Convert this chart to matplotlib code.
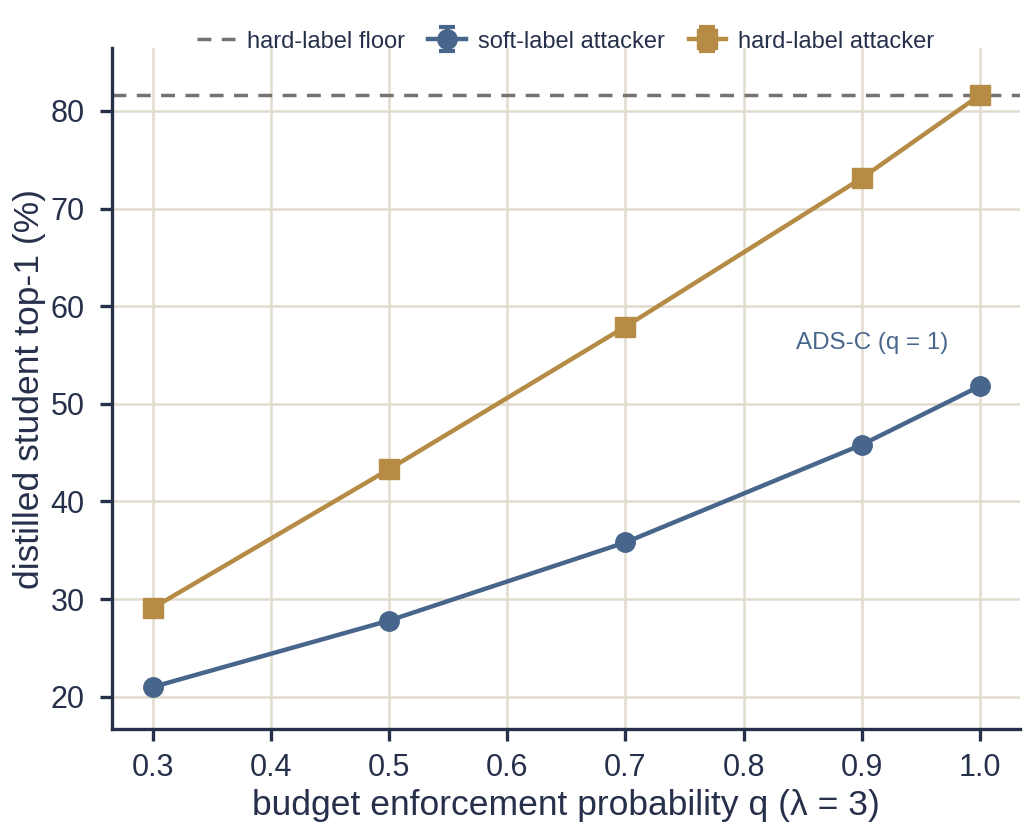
import matplotlib
matplotlib.use("Agg")
import matplotlib.pyplot as plt

q = [0.3, 0.5, 0.7, 0.9, 1.0]
soft = [21.0, 27.8, 35.8, 45.8, 51.8]
hard = [29.1, 43.3, 57.9, 73.1, 81.6]
soft_err = [0.3, 0.3, 0.3, 0.3, 0.3]
hard_err = [0.3, 0.3, 0.3, 0.3, 0.3]
floor = 81.6
xticks = [0.3, 0.4, 0.5, 0.6, 0.7, 0.8, 0.9, 1.0]
yticks = [20, 30, 40, 50, 60, 70, 80]

navy = "#26304a"
c_soft = "#48658c"
c_hard = "#b58b45"
c_grid = "#e2dccf"

plt.rcParams['font.family'] = ['Liberation Sans', 'DejaVu Sans']
fig = plt.figure(figsize=(10.24, 8.34), dpi=100)
ax = fig.add_axes([0.109, 0.126, 0.887, 0.816])

ax.axhline(floor, color="#777270", ls=(0, (4, 3)), lw=2.5, label="hard-label floor", zorder=2)
ax.errorbar(q, soft, yerr=soft_err, color=c_soft, marker="o", ms=14, lw=3.2, capsize=6,
            capthick=3, elinewidth=3, label="soft-label attacker", zorder=3)
ax.errorbar(q, hard, yerr=hard_err, color=c_hard, marker="s", ms=14, lw=3.2, capsize=6,
            capthick=3, elinewidth=3, label="hard-label attacker", zorder=3)

ax.annotate("ADS-C (q = 1)", xy=(1.0, soft[-1]), xytext=(0.909, 56.2), color=c_soft,
            fontsize=17.4, ha="center", va="center")

ax.set_xlim(0.265, 1.034)
ax.set_ylim(16.7, 86.4)
ax.set_xticks(xticks)
ax.set_yticks(yticks)
ax.set_xticklabels([f"{v:.1f}" for v in xticks])
ax.grid(True, color=c_grid, lw=1.8, zorder=0)
ax.set_axisbelow(True)
for s in ["top", "right"]:
    ax.spines[s].set_visible(False)
for s in ["left", "bottom"]:
    ax.spines[s].set_color(navy)
    ax.spines[s].set_linewidth(2.4)
ax.tick_params(colors=navy, labelsize=22, width=2.4, length=8.5)
ax.tick_params(axis="x", pad=9)
ax.tick_params(axis="y", pad=11)
ax.set_xlabel("budget enforcement probability q (λ = 3)", fontsize=25.5, color=navy, labelpad=4)
ax.set_ylabel("distilled student top-1 (%)", fontsize=25.5, color=navy, labelpad=3)

ax.legend(loc="lower center", bbox_to_anchor=(0.5, 0.98), ncol=3, frameon=False,
          fontsize=17, handlelength=1.6, columnspacing=1.0, handletextpad=0.5,
          labelcolor=navy, borderaxespad=0)

fig.savefig("out.png", dpi=100)
